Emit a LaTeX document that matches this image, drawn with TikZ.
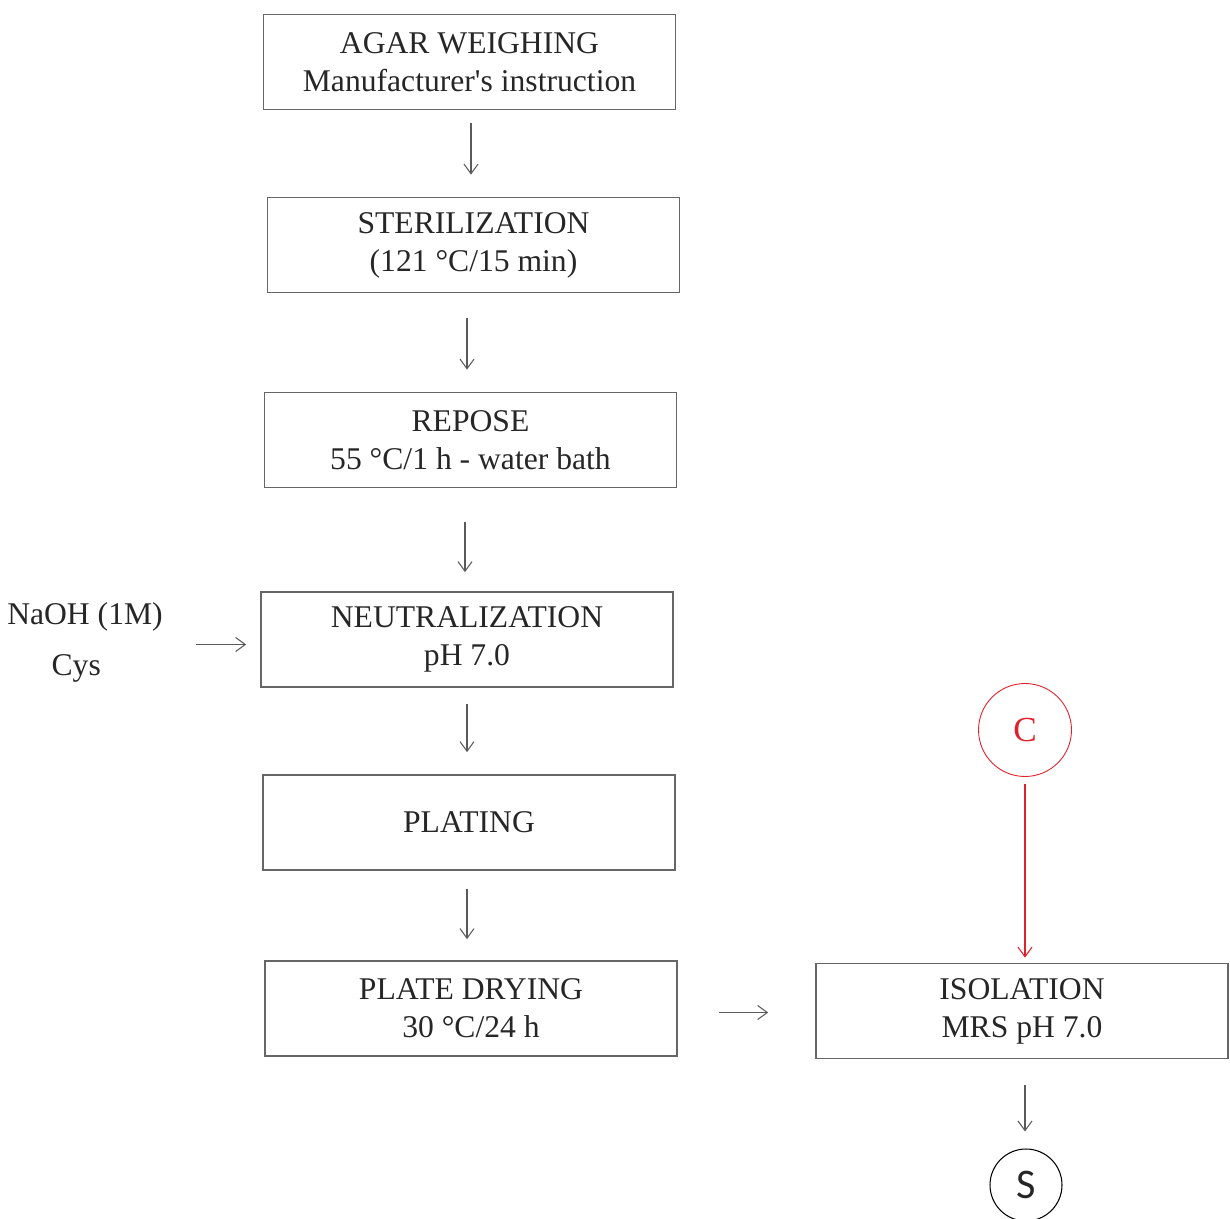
\documentclass[tikz,border=0pt]{standalone}
\usepackage{fontspec}
\setmainfont{Liberation Serif}
\newfontfamily\sansS{Carlito}
\usetikzlibrary{arrows.meta,positioning}
\definecolor{boxgray}{HTML}{666666}
\definecolor{arrgray}{HTML}{5A5A5A}
\definecolor{ctred}{HTML}{E0202A}

\begin{document}
\begin{tikzpicture}[x=0.02cm, y=-0.02cm,
  every node/.style={font=\fontsize{18}{21.6}\selectfont, text=black!85},
  stepbox/.style={draw=boxgray, line width=1pt, rectangle, minimum width=8.24cm, minimum height=1.9cm, align=center, inner sep=0pt},
  flow/.style={draw=arrgray, line width=0.6pt, -{Straight Barb[length=5.5pt,width=8pt]}}]
  \useasboundingbox (0,0) rectangle (1230,1219);

  % Main steps
  \node[stepbox] (agar) at (469.5,62) {AGAR WEIGHING\\Manufacturer\textquotesingle s instruction};
  \node[stepbox] (steril) at (473.5,245) {STERILIZATION\\(121 °C/15 min)};
  \node[stepbox] (repose) at (470.5,440) {REPOSE\\55 °C/1 h - water bath};
  \node[stepbox] (neutral) at (467,639.5) {NEUTRALIZATION\\pH 7.0};
  \node[stepbox] (plating) at (469,822.5) {PLATING};
  \node[stepbox] (drying) at (471,1008.5) {PLATE DRYING\\30 °C/24 h};

  \draw[flow, shorten <=0.26cm, shorten >=0.44cm] ([xshift=0.03cm]agar.south) -- ([xshift=0.03cm]agar.south |- steril.north);
  \draw[flow, shorten <=0.5cm, shorten >=0.44cm] ([xshift=-0.13cm]steril.south) -- ([xshift=-0.13cm]steril.south |- repose.north);
  \draw[flow, shorten <=0.68cm, shorten >=0.38cm] ([xshift=-0.11cm]repose.south) -- ([xshift=-0.11cm]repose.south |- neutral.north);
  \draw[flow, shorten <=0.32cm, shorten >=0.44cm] (neutral.south) -- (neutral.south |- plating.north);
  \draw[flow, shorten <=0.36cm, shorten >=0.42cm] ([xshift=-0.04cm]plating.south) -- ([xshift=-0.04cm]plating.south |- drying.north);

  % Reagents
  \node[align=center] (reag) at (85,642) {NaOH (1M)\\[7.4pt]\hspace*{-0.35cm}Cys};
  \draw[flow, shorten <=0.55cm, shorten >=0.28cm] ([yshift=-0.05cm]reag.east) -- ([yshift=-0.05cm]reag.east -| neutral.west);

  % Isolation
  \node[stepbox] (isol) at (1022,1011) {ISOLATION\\MRS pH 7.0};
  \draw[flow, shorten <=0.82cm, shorten >=0.94cm] ([yshift=-0.08cm]drying.east) -- ([yshift=-0.08cm]drying.east -| isol.west);

  % Control
  \node[draw=ctred, circle, line width=0.5pt, minimum size=1.86cm, inner sep=0pt, text=ctred, font=\fontsize{20}{24}\selectfont] (ctrl) at (1025,730) {C};
  \draw[flow, draw=ctred, shorten <=0.14cm, shorten >=0.1cm] (ctrl.south) -- (ctrl.south |- isol.north);

  % Sample
  \node[draw=black, circle, line width=0.6pt, minimum size=1.44cm, inner sep=0pt, font=\sansS\fontsize{24}{28}\selectfont] (samp) at (1026,1185) {S};
  \draw[flow, shorten <=0.52cm, shorten >=0.34cm] ([xshift=0.06cm]isol.south) -- ([xshift=0.06cm]isol.south |- samp.north);
\end{tikzpicture}
\end{document}
